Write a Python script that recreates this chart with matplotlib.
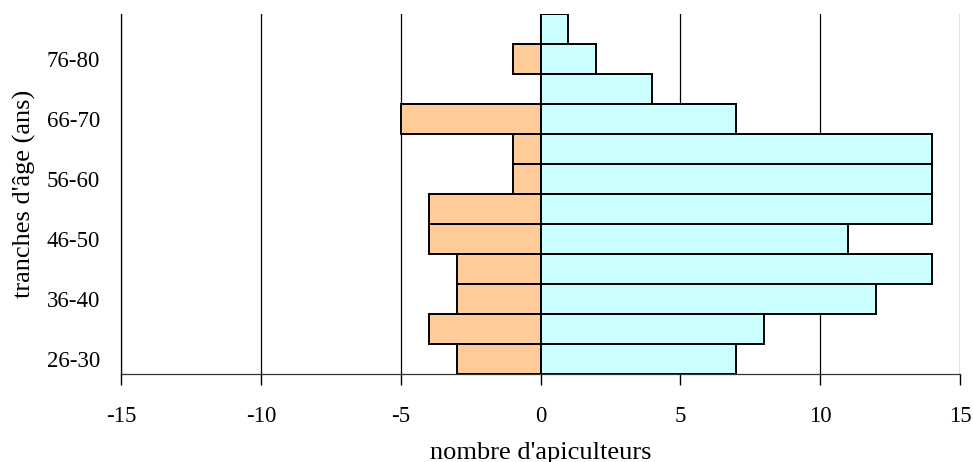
import matplotlib
matplotlib.use("Agg")
import matplotlib.pyplot as plt
import numpy as np

categories = ["26-30", "31-35", "36-40", "41-45", "46-50", "51-55",
              "56-60", "61-65", "66-70", "71-75", "76-80", "81-85"]
femmes = [-3, -4, -3, -3, -4, -4, -1, -1, -5, 0, -1, 0]
hommes = [7, 8, 12, 14, 11, 14, 14, 14, 7, 4, 2, 1]
xticks = [-15, -10, -5, 0, 5, 10, 15]

plt.rcParams['font.family'] = ['Liberation Serif', 'DejaVu Serif']
FS_TICK = 16.5
FS_LAB = 19

fig = plt.figure(figsize=(9.73, 4.62), dpi=100)
ax = fig.add_axes([121/973, (462-374)/462, (960-121)/973, (374-14)/462])

y = np.arange(len(categories))
ax.barh(y, femmes, height=1.0, color='#FFCC99', edgecolor='black', linewidth=1.4, zorder=3)
ax.barh(y, hommes, height=1.0, color='#CCFFFF', edgecolor='black', linewidth=1.4, zorder=3)

ax.set_xlim(-15, 15)
ax.set_ylim(-0.5, len(categories) - 0.5)
ax.set_xticks(xticks)
ax.set_xticklabels([str(v) for v in xticks], fontsize=FS_TICK)
ax.xaxis.grid(True, color='black', linewidth=0.9, zorder=0)
ax.axvline(0, color='#555555', linewidth=1.5, zorder=2)

ax.set_yticks(y[::2])
ax.set_yticklabels(categories[::2], fontsize=FS_TICK)
ax.tick_params(axis='y', length=0, pad=15)
ax.tick_params(axis='x', direction='out', length=8, width=1, pad=15, colors='black')

for s in ['top', 'right']:
    ax.spines[s].set_visible(False)
ax.spines['left'].set_linewidth(0.9)
ax.spines['bottom'].set_linewidth(0.9)
ax.spines['bottom'].set_color('#333333')

ax.set_xlabel("nombre d'apiculteurs", fontsize=FS_LAB, labelpad=10.5)
ax.set_ylabel("tranches d'âge (ans)", fontsize=FS_LAB, labelpad=8)

fig.savefig("out.png", dpi=100)
